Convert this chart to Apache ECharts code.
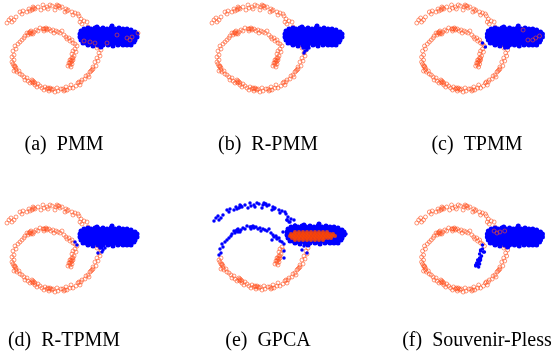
<!DOCTYPE html>
<html>
<head>
  <meta charset="UTF-8" />
  <title></title>
  <style type="text/css">
    * { margin: 0; padding: 0; }
    body { background: #fff; }
    #main { width: 555px; height: 363px; }
  </style>
</head>
<body>
  <div id="main"></div>
</body>
<script src="https://cdn.jsdelivr.net/npm/echarts@6/dist/echarts.min.js"></script>
<script type="text/javascript">
  // spiral, walked from the outer end inwards
  const topArc = [[7,23],[9,20],[12,22],[11,18],[14,20],[16,17],[20,12],[22,14],[23,11],[27,12],[29,9],[30,11],[32,10],[33,7],[35,9],[38,7],[41,10],[43,5],[44,8],[47,7],[48,9],[50,5],[52,6],[55,10],[57,5],[59,6],[60,8],[62,7],[65,12],[66,9],[68,10],[72,12],[73,15],[75,13],[78,14],[79,16],[81,19],[80,22],[84,21],[82,24],[87,22],[33,9],[34,8],[56,7],[58,6],[67,11]]
  const rightUpper = [[88,27],[90,30],[89,33],[92,35],[91,38],[94,39],[93,42],[96,44],[98,46],[97,48],[100,47]]
  const rightSide = [[101,50],[99,53],[100,56],[97,58],[98,61],[95,62],[96,66],[93,67],[92,70],[90,72],[88,75],[89,77],[86,76],[85,79],[82,80],[81,82],[79,82],[80,85],[93,69],[91,71]]
  const loopBottom = [[76,86],[73,88],[71,85],[70,88],[67,90],[66,87],[64,91],[61,89],[58,91],[57,88],[55,92],[53,89],[52,90],[50,88],[49,91],[47,89],[45,87],[44,90],[42,88],[40,86],[38,84],[37,87],[35,85],[34,82],[33,83],[32,80],[30,83],[28,81],[27,78],[25,80],[24,77],[22,75],[20,74],[19,71],[17,72],[16,68],[14,71],[15,66],[13,64],[12,62],[14,60],[33,81],[49,89],[15,67],[14,66],[16,70],[32,82],[35,83],[48,88],[51,89],[63,89],[65,90],[78,83]]
  const loopLeft = [[12,57],[14,55],[13,51],[16,49],[15,46],[18,44],[20,42],[22,40],[24,38]]
  const loopTop = [[25,36],[27,33],[28,35],[30,32],[31,34],[32,33],[34,32],[36,30],[38,31],[40,28],[43,29],[44,31],[46,28],[47,30],[49,29],[51,31],[53,30],[54,33],[56,31],[58,32],[60,33],[62,31],[64,35],[66,37],[67,39],[69,38],[70,41],[72,40],[73,43],[75,44],[77,46],[30,33],[45,29],[29,33],[31,31],[33,34],[44,29],[47,29]]
  const innerTail = [[75,49],[73,51],[76,52],[72,54],[74,56],[72,58],[70,60],[73,60],[71,62],[69,63],[72,64],[70,65],[71,67],[68,66],[71,60],[72,61],[70,63],[73,58]]

  // the dense cluster on the right
  const blob = [
    [84,29],[88,28],[91,29],[95,28],[99,29],[103,28],[107,29],[111,28],[115,29],[119,28],[123,29],[127,29],[131,30],[97,27],[112,26],
    [81,31],[84,32],[87,31],[90,31],[93,32],[96,31],[99,31],[102,32],[105,31],[108,31],[111,32],[114,31],[117,31],[120,32],[123,31],[126,31],[129,32],[132,32],[135,32],
    [80,34],[83,34],[86,35],[89,34],[92,34],[95,35],[98,34],[101,34],[104,35],[107,34],[110,34],[113,35],[116,34],[119,34],[122,35],[125,34],[128,34],[131,35],[134,34],[137,34],
    [80,37],[83,37],[86,37],[89,38],[92,37],[95,37],[98,38],[101,37],[104,37],[107,38],[110,37],[113,37],[116,38],[119,37],[122,37],[125,38],[128,37],[131,37],[134,38],[137,37],
    [81,40],[84,40],[87,41],[90,40],[93,40],[96,41],[99,40],[102,40],[105,41],[108,40],[111,40],[114,41],[117,40],[120,40],[123,41],[126,40],[129,40],[132,41],[135,40],
    [83,43],[86,43],[89,43],[92,44],[95,43],[98,43],[101,44],[104,43],[107,43],[110,44],[113,43],[116,43],[119,44],[122,43],[125,43],[128,44],[131,43],[134,42],
    [88,45],[93,46],[98,45],[103,45],[108,45],[113,46],[118,45],[123,45],[127,45],[131,45],[101,47]
  ]

  // per-method differences
  const pmmOrange = [[84,41],[90,42],[95,43],[107,43],[117,35],[127,38],[130,40],[132,37],[138,33]]
  const rpmmBlue = [[98,48],[100,51],[102,50],[104,48],[99,53]]
  const tpmmBlue = [[75,43],[78,47],[98,48]]
  const tpmmOrange = [[117,30],[122,40],[127,40],[130,38],[134,36]]
  const rtpmmBlue = [[75,42],[77,45],[100,48],[102,52],[98,53],[103,50],[105,48]]
  const gpcaBlue = [[77,53],[77,60],[65,42],[70,40],[95,52],[100,55],[98,45],[80,22],[83,24],[76,34],[139,36]]
  const gpcaOrange = [
    [88,34],[92,34],[96,34],[100,34],[104,34],[108,34],[112,34],[116,34],[120,34],
    [84,36],[87,36],[90,36],[93,36],[96,36],[99,36],[102,36],[105,36],[108,36],[111,36],[114,36],[117,36],[120,36],[123,36],[126,36],
    [83,38],[86,38],[89,38],[92,38],[95,38],[98,38],[101,38],[104,38],[107,38],[110,38],[113,38],[116,38],[119,38],[122,38],[125,38],[128,38],
    [85,40],[88,40],[91,40],[94,40],[97,40],[100,40],[103,40],[106,40],[109,40],[112,40],[115,40],[118,40],[121,40],[124,40],
    [88,42],[92,42],[96,42],[100,42],[104,42],[108,42],[112,42],[116,42]
  ]
  const spBlue = [[75,45],[73,50],[77,52],[68,65],[70,64]]
  const spOrange = [[87,31],[90,33],[93,32],[98,31]]

  const labels = ['(a)', '(b)', '(c)', '(d)', '(e)', '(f)']
  const methods = ['PMM', 'R-PMM', 'TPMM', 'R-TPMM', 'GPCA', 'Souvenir-Pless']

  const spiral = [].concat(topArc, rightUpper, rightSide, loopBottom, loopLeft, loopTop, innerTail)
  const panels = [
    { orange: spiral, blue: [], top: pmmOrange },
    { orange: spiral, blue: rpmmBlue, top: [] },
    { orange: spiral, blue: tpmmBlue, top: tpmmOrange },
    { orange: spiral, blue: rtpmmBlue, top: [] },
    { orange: [].concat(rightSide, loopBottom, innerTail), blue: [].concat(topArc, rightUpper, loopLeft, loopTop, gpcaBlue), top: gpcaOrange, solidTop: true },
    { orange: [].concat(topArc, rightUpper, rightSide, loopBottom, loopLeft, loopTop), blue: innerTail.concat(spBlue), top: spOrange }
  ]

  const boxes = [[0,0],[205,0],[410,0],[0,200],[207,198],[410,200]]
  const capX = [64, 268, 477]
  const capY = [145, 341]

  const ringStyle = { color: 'rgba(0,0,0,0)', borderColor: 'rgba(255,80,30,0.6)', borderWidth: 1, opacity: 1 }
  const dotStyle = { color: '#0000ff', opacity: 1 }

  let grid = [], xAxis = [], yAxis = [], series = [], texts = []
  panels.forEach((p, i) => {
    grid.push({ left: boxes[i][0], top: boxes[i][1], width: 150, height: 100 })
    xAxis.push({ gridIndex: i, type: 'value', min: 0, max: 150, show: false })
    yAxis.push({ gridIndex: i, type: 'value', min: 0, max: 100, inverse: true, show: false })
    series.push({ type: 'scatter', xAxisIndex: i, yAxisIndex: i, data: p.orange, symbolSize: 4, itemStyle: ringStyle })
    series.push({ type: 'scatter', xAxisIndex: i, yAxisIndex: i, data: blob, symbolSize: 5, itemStyle: dotStyle })
    series.push({ type: 'scatter', xAxisIndex: i, yAxisIndex: i, data: p.blue, symbolSize: 3.5, itemStyle: dotStyle })
    series.push({
      type: 'scatter', xAxisIndex: i, yAxisIndex: i, data: p.top, symbolSize: 4,
      itemStyle: p.solidTop ? { color: 'rgba(255,69,0,0.85)', opacity: 1 } : ringStyle
    })
    texts.push({
      type: 'text', x: capX[i % 3], y: capY[Math.floor(i / 3)],
      style: {
        text: labels[i] + '  ' + methods[i], fill: '#000',
        font: '20px "Liberation Serif", "Times New Roman", serif',
        textAlign: 'center', textVerticalAlign: 'middle'
      }
    })
  })

  let myChart = echarts.init(document.getElementById('main'))
  myChart.setOption({
    animation: false,
    grid: grid,
    xAxis: xAxis,
    yAxis: yAxis,
    series: series,
    graphic: texts
  })
</script>
</html>
